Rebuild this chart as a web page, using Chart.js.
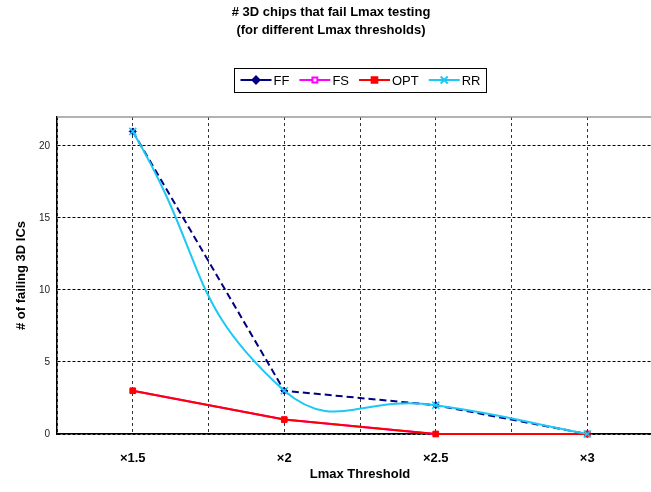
<!DOCTYPE html>
<html>
<head>
<meta charset="utf-8">
<script src="https://cdn.jsdelivr.net/npm/chart.js@4.4.0/dist/chart.umd.min.js"></script>
<style>
  html, body { margin: 0; padding: 0; background: #fff; overflow: hidden; }
  #wrap { position: relative; width: 651px; height: 492px; overflow: hidden; }
  #myChart { position: absolute; left: 0; top: 0; }
  #title {
    position: absolute; left: 0; top: 3px; width: 662px;
    text-align: center; color: #000;
    font: bold 13px "Liberation Sans", Arial, sans-serif; line-height: 18px;
  }
</style>
</head>
<body>
<div id="wrap">
  <canvas id="myChart" width="720" height="492"></canvas>
  <div id="title"># 3D chips that fail Lmax testing<br>(for different Lmax thresholds)</div>
</div>
<script>
// date
const thresholds = [1.5, 2, 2.5, 3];
const ffValues = [21, 3, 2, 0];
const fsValues = [3, 1, 0, 0];
const optValues = [3, 1, 0, 0];
const rrValues = [21, 3, 2, 0];
const yTicks = [0, 5, 10, 15, 20];

const toPoints = (vals) => thresholds.map((t, i) => ({ x: t, y: vals[i] }));

// grila verticala: la fiecare prag si la jumatatea distantei
const half = (thresholds[1] - thresholds[0]) / 2;
const xGrid = [];
for (let v = thresholds[0] - half; v <= thresholds[thresholds.length - 1] + half + 1e-9; v += half) {
    xGrid.push(Math.round(v * 100) / 100);
}

// legenda cu chenar, linie + marker
const boxLegend = {
    id: 'boxLegend',
    afterDraw(chart) {
        const ctx = chart.ctx;
        const items = chart.data.datasets;
        const lineW = 31, gapText = 2, gapItem = 10, pad = 6;
        ctx.save();
        ctx.font = '13px "Liberation Sans", Arial, sans-serif';
        let total = 0;
        const widths = items.map(d => ctx.measureText(d.label).width);
        widths.forEach(w => { total += lineW + gapText + w; });
        total += gapItem * (items.length - 1);
        const boxW = total + pad * 2, boxH = 24;
        const cx = 360, cy = 80;
        const bx = Math.round(cx - boxW / 2) + 0.5, by = Math.round(cy - boxH / 2) + 0.5;
        ctx.strokeStyle = '#000';
        ctx.lineWidth = 1;
        ctx.strokeRect(bx, by, boxW, boxH);
        let x = bx + pad;
        items.forEach((d, i) => {
            ctx.strokeStyle = d.borderColor;
            ctx.lineWidth = 2;
            ctx.setLineDash([]);
            ctx.beginPath();
            ctx.moveTo(x, cy);
            ctx.lineTo(x + lineW, cy);
            ctx.stroke();
            ctx.fillStyle = d.pointBackgroundColor;
            ctx.strokeStyle = d.pointBorderColor;
            Chart.helpers.drawPoint(ctx, {
                pointStyle: d.pointStyle, radius: d.pointRadius, rotation: 0,
                borderWidth: d.pointBorderWidth
            }, x + lineW / 2, cy);
            ctx.fillStyle = '#000';
            ctx.textBaseline = 'middle';
            ctx.textAlign = 'left';
            ctx.fillText(d.label, x + lineW + gapText, cy + 1);
            x += lineW + gapText + widths[i] + gapItem;
        });
        ctx.restore();
    }
};

// linia de sus a zonei de grafic
const topBorder = {
    id: 'topBorder',
    beforeDatasetsDraw(chart) {
        const { ctx, chartArea } = chart;
        ctx.save();
        ctx.strokeStyle = '#999';
        ctx.lineWidth = 1.5;
        ctx.beginPath();
        ctx.moveTo(chartArea.left, chartArea.top);
        ctx.lineTo(chartArea.right, chartArea.top);
        ctx.stroke();
        ctx.restore();
    }
};

const data = {
    datasets: [
        {
            label: 'FF',
            data: toPoints(ffValues),
            borderColor: '#000080',
            borderWidth: 2,
            borderDash: [7, 4],
            pointStyle: 'rectRot',
            pointRadius: 3.5,
            pointBackgroundColor: '#000080',
            pointBorderColor: '#000080',
            pointBorderWidth: 1,
            tension: 0,
            order: 3
        },
        {
            label: 'FS',
            data: toPoints(fsValues),
            borderColor: '#FF00FF',
            borderWidth: 2,
            pointStyle: 'rect',
            pointRadius: 3.5,
            pointBackgroundColor: '#FFFFFF',
            pointBorderColor: '#FF00FF',
            pointBorderWidth: 1,
            tension: 0,
            order: 2
        },
        {
            label: 'OPT',
            data: toPoints(optValues),
            borderColor: '#FF0000',
            borderWidth: 2,
            pointStyle: 'rect',
            pointRadius: 4,
            pointBackgroundColor: '#FF0000',
            pointBorderColor: '#FF0000',
            pointBorderWidth: 1,
            tension: 0,
            order: 1
        },
        {
            label: 'RR',
            data: toPoints(rrValues),
            borderColor: '#1EC8F5',
            borderWidth: 2,
            pointStyle: 'crossRot',
            pointRadius: 5,
            pointBackgroundColor: '#1EC8F5',
            pointBorderColor: '#1EC8F5',
            pointBorderWidth: 1.5,
            tension: 0.5,
            order: 0
        }
    ]
};

const config = {
    type: 'line',
    data: data,
    options: {
        responsive: false,
        animation: false,
        devicePixelRatio: 1,
        clip: false,
        layout: { padding: { top: 117, left: 0, right: 57, bottom: 0 } },
        plugins: {
            legend: { display: false },
            title: { display: false },
            tooltip: { enabled: false }
        },
        scales: {
            x: {
                type: 'linear',
                min: xGrid[0],
                max: xGrid[xGrid.length - 1],
                afterBuildTicks: (scale) => { scale.ticks = xGrid.map(v => ({ value: v })); },
                afterFit: (scale) => { scale.height = 58; },
                ticks: {
                    autoSkip: false,
                    maxRotation: 0,
                    padding: 17,
                    color: '#000',
                    font: { family: '"Liberation Sans", Arial, sans-serif', size: 13, weight: 'bold' },
                    callback: (v) => thresholds.includes(v) ? '\u00d7' + v : ''
                },
                grid: { color: '#333', lineWidth: 1, drawTicks: false },
                border: { display: true, color: '#000', width: 1.5, dash: [3, 3] },
                title: {
                    display: true,
                    text: 'Lmax Threshold',
                    color: '#000',
                    font: { family: '"Liberation Sans", Arial, sans-serif', size: 13, weight: 'bold' },
                    padding: { top: 0, bottom: 10 }
                }
            },
            y: {
                min: 0,
                max: 22,
                afterBuildTicks: (scale) => { scale.ticks = yTicks.map(v => ({ value: v })); },
                afterFit: (scale) => { scale.width = 57; },
                ticks: {
                    padding: 7,
                    color: '#222',
                    font: { family: '"Liberation Sans", Arial, sans-serif', size: 10 }
                },
                grid: { color: '#000', lineWidth: 1, drawTicks: false },
                border: { display: true, color: '#000', width: 1.5, dash: [3, 2] },
                title: {
                    display: true,
                    text: '# of failing 3D ICs',
                    color: '#000',
                    font: { family: '"Liberation Sans", Arial, sans-serif', size: 13, weight: 'bold' },
                    padding: { top: 14, bottom: 0 }
                }
            }
        }
    },
    plugins: [topBorder, boxLegend]
};

const ctx = document.getElementById('myChart').getContext('2d');
const myChart = new Chart(ctx, config);
</script>
</body>
</html>
